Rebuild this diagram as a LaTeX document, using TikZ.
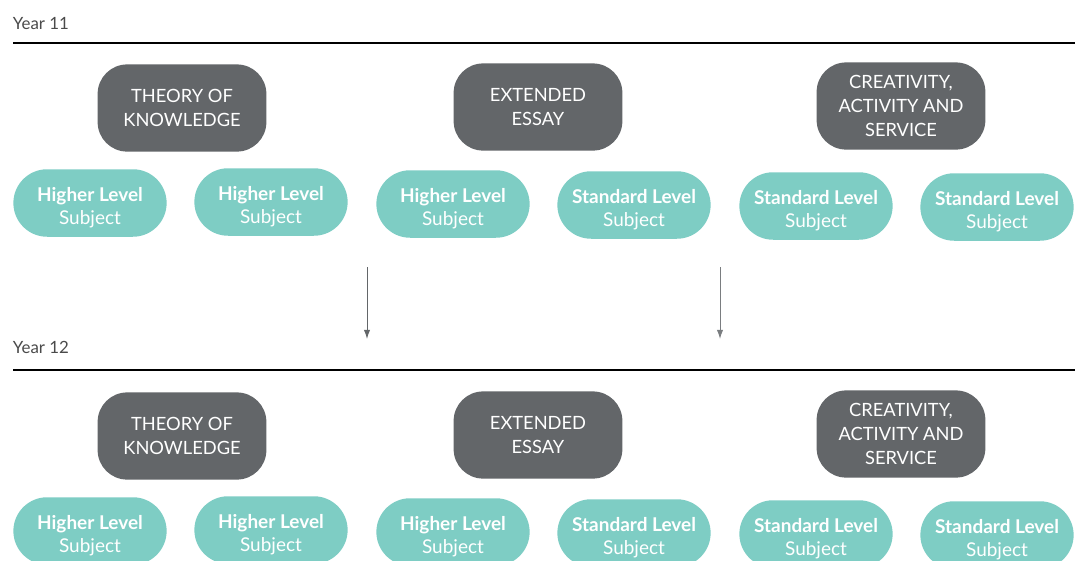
\documentclass[tikz,border=0pt]{standalone}
\usepackage{fontspec}
\setmainfont{Lato}
\usepackage{xcolor}
\usetikzlibrary{positioning, arrows.meta}

\definecolor{corecol}{HTML}{636669}
\definecolor{subjcol}{HTML}{7ECDC4}
\definecolor{yearcol}{HTML}{4A4A4A}

\tikzset{
    core/.style={fill=corecol, text=white, rounded corners=21pt, minimum width=120pt,
        minimum height=62pt, align=center, font=\fontsize{13}{17}\selectfont},
    subj/.style={fill=subjcol, text=white, rounded corners=24pt, minimum width=109pt,
        minimum height=48pt, align=center, text height=33pt,
        font=\fontsize{13.5}{16.5}\selectfont},
    year/.style={anchor=base west, text=yearcol, font=\fontsize{12}{14}\selectfont},
}

\begin{document}
\begin{tikzpicture}[x=0.025cm, y=-0.025cm]
        \useasboundingbox (0,0) rectangle (1085,560);
        \clip (0,0) rectangle (1085,560);

        % Year 11
        \node[year] (y11) at (8,29) {Year 11};
        \draw[line width=1pt] (13,43) -- (1075,43);

        \node[core] (tok11) at (182,108) {THEORY OF\\KNOWLEDGE};
        \node[core] (ee11) at (538,107) {EXTENDED\\ESSAY};
        \node[core] (cas11) at (901,106) {CREATIVITY,\\ACTIVITY AND\\SERVICE};

        \node[subj] (sa11) at (90,203) {\textbf{Higher Level}\\Subject};
        \node[subj] (sb11) at (271,202) {\textbf{Higher Level}\\Subject};
        \node[subj] (sc11) at (453,204) {\textbf{Higher Level}\\Subject};
        \node[subj] (sd11) at (634,205) {\textbf{Standard Level}\\Subject};
        \node[subj] (se11) at (816,206) {\textbf{Standard Level}\\Subject};
        \node[subj] (sf11) at (997,207) {\textbf{Standard Level}\\Subject};

        % arrows between the years
        \coordinate (la) at (367,267);
        \coordinate (lb) at (367,339);
        \coordinate (ra) at (720,267);
        \coordinate (rb) at (720,339);
        \draw[-{Latex[length=6.5pt,width=4.5pt]}, corecol, line width=0.7pt] (la) -- (lb);
        \draw[-{Latex[length=6.5pt,width=4.5pt]}, corecol!85, line width=0.7pt] (ra) -- (rb);

        % Year 12
        \node[year] (y12) at (8,353) {Year 12};
        \draw[line width=1pt] (13,370) -- (1075,370);

        \node[core] (tok12) at (182,436) {THEORY OF\\KNOWLEDGE};
        \node[core] (ee12) at (538,435) {EXTENDED\\ESSAY};
        \node[core] (cas12) at (901,434) {CREATIVITY,\\ACTIVITY AND\\SERVICE};

        \node[subj] (sa12) at (90,531) {\textbf{Higher Level}\\Subject};
        \node[subj] (sb12) at (271,530) {\textbf{Higher Level}\\Subject};
        \node[subj] (sc12) at (453,532) {\textbf{Higher Level}\\Subject};
        \node[subj] (sd12) at (634,533) {\textbf{Standard Level}\\Subject};
        \node[subj] (se12) at (816,534) {\textbf{Standard Level}\\Subject};
        \node[subj] (sf12) at (997,535) {\textbf{Standard Level}\\Subject};

    \end{tikzpicture}
\end{document}
